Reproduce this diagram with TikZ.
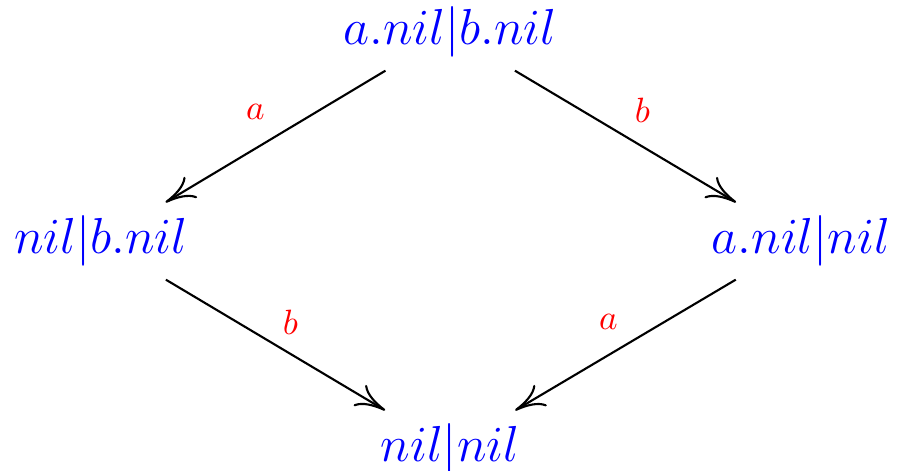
\documentclass[tikz,border=0pt]{standalone}
\usetikzlibrary{arrows.meta}
\begin{document}
\begin{tikzpicture}[
  state/.style={text=blue, font=\fontsize{13.5}{16}\selectfont, inner xsep=3pt, inner ysep=3.6pt},
  trans/.style={draw=black, line width=0.6pt, -{To[length=8.5pt,width=7pt]}},
  lbl/.style={text=red, font=\fontsize{9.8}{12}\selectfont, inner sep=0pt}
]
\useasboundingbox (0,0) rectangle (9,4.7);
\node[state] (top) at (4.5,4.38) {$a.nil|b.nil$};
\node[state] (left) at (1.01,2.29) {$nil|b.nil$};
\node[state] (right) at (8.01,2.29) {$a.nil|nil$};
\node[state] (bot) at (4.5,0.21) {$nil|nil$};
\draw[trans] (top) -- node[lbl, pos=0.5, xshift=-0.2cm, yshift=0.245cm] (la) {$a$} (left);
\draw[trans] (top) -- node[lbl, pos=0.5, xshift=0.17cm, yshift=0.265cm] (lb) {$b$} (right);
\draw[trans] (left) -- node[lbl, pos=0.5, xshift=0.15cm, yshift=0.23cm] (lc) {$b$} (bot);
\draw[trans] (right) -- node[lbl, pos=0.5, xshift=-0.17cm, yshift=0.23cm] (ld) {$a$} (bot);
\end{tikzpicture}
\end{document}
